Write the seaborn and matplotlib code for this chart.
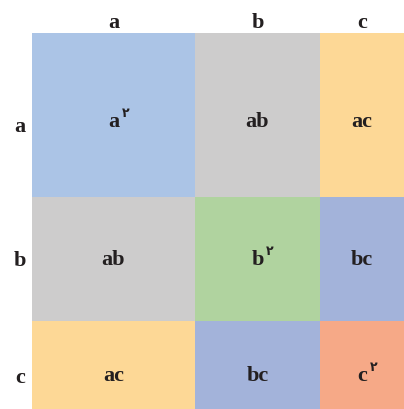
import numpy as np
import matplotlib
matplotlib.use("Agg")
import matplotlib.pyplot as plt
from matplotlib.colors import ListedColormap
import seaborn as sns

# side lengths of the pieces (a, b, c)
names = ["a", "b", "c"]
col_sizes = [163, 125, 84]
row_sizes = [164, 124, 88]

# what is written in every cell, and the power (if any)
cell_text = [["a", "ab", "ac"],
             ["ab", "b", "bc"],
             ["ac", "bc", "c"]]
cell_power = [["۲", "", ""],
              ["", "۲", ""],
              ["", "", "۲"]]

# colour of each cell
palette = ["#abc4e6", "#cdcccc", "#fdd896", "#b0d39f", "#a3b3da", "#f6a987"]
cell_color = [[0, 1, 2],
              [1, 3, 4],
              [2, 4, 5]]

sns.set_theme(style="white")
plt.rcParams["font.family"] = ["Liberation Serif", "DejaVu Sans"]

fig = plt.figure(figsize=(4.04, 4.09), dpi=100)
ax = fig.add_axes([32 / 404, 0, 372 / 404, 376 / 409])

xe = np.concatenate([[0], np.cumsum(col_sizes)])
ye = np.concatenate([[0], np.cumsum(row_sizes)])
ax.pcolormesh(xe, ye, np.array(cell_color), cmap=ListedColormap(palette),
              vmin=-0.5, vmax=len(palette) - 0.5)
ax.set_xlim(xe[0], xe[-1])
ax.set_ylim(ye[-1], ye[0])
ax.set_axis_off()

txt = "#231f20"
xc = (xe[:-1] + xe[1:]) / 2
yc = (ye[:-1] + ye[1:]) / 2
# small vertical nudges per row, as in the original drawing
cell_dy = [7, 1, 11]
label_dy = [12, 2, 13]
for i in range(3):
    for j in range(3):
        ax.text(xc[j], yc[i] + cell_dy[i], cell_text[i][j], ha="center",
                va="center", fontsize=16, fontweight="bold", color=txt)
        if cell_power[i][j]:
            ax.annotate(cell_power[i][j], (xc[j], yc[i] + cell_dy[i]),
                        xytext=(6, 6), textcoords="offset points",
                        ha="left", va="center", fontsize=9,
                        fontweight="bold", color=txt, family=["DejaVu Sans"])

# side labels
for j, n in enumerate(names):
    ax.text(xc[j], -10, n, ha="center", va="center", fontsize=16,
            fontweight="bold", color=txt, clip_on=False)
for i, n in enumerate(names):
    ax.text(-12, yc[i] + label_dy[i], n, ha="center", va="center",
            fontsize=16, fontweight="bold", color=txt, clip_on=False)

fig.savefig("out.png", dpi=100)
